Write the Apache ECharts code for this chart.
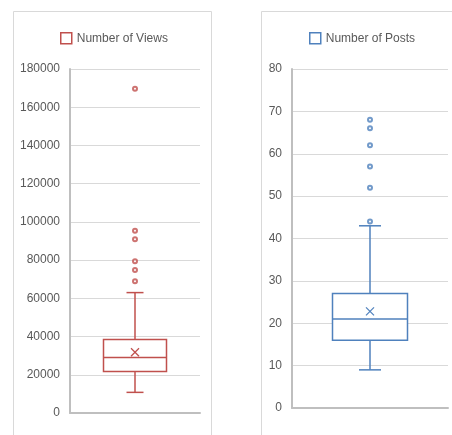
<!DOCTYPE html>
<html>
<head>
<meta charset="utf-8">
<script src="https://cdn.jsdelivr.net/npm/echarts@6/dist/echarts.min.js"></script>
<style>
  html, body { margin: 0; padding: 0; background: #fff; }
  #chart { width: 452px; height: 435px; }
</style>
</head>
<body>
<div id="chart"></div>
<script>
// box stats: [min, q1, median, q3, max]
var viewsStats = [10800, 21700, 29000, 38400, 63000]
var viewsMean = 31800
var viewsOutliers = [68900, 74800, 79400, 90900, 95400, 169700]
var viewsTicks = [0, 180000, 20000]

var postsStats = [9, 16, 21, 27, 43]
var postsMean = 22.8
var postsOutliers = [44, 52, 57, 62, 66, 68]
var postsTicks = [0, 80, 10]

var red = '#C0504D'
var blue = '#4F81BD'
var font = '"Liberation Sans", Arial, sans-serif'

// box, whiskers, caps and mean cross drawn from axis coords
function boxRenderer(boxW, capW, color) {
  return function (params, api) {
    var lo = api.coord([0, api.value(1)])
    var q1 = api.coord([0, api.value(2)])
    var md = api.coord([0, api.value(3)])
    var q3 = api.coord([0, api.value(4)])
    var hi = api.coord([0, api.value(5)])
    var mn = api.coord([0, api.value(6)])
    var x = lo[0]
    var st = { stroke: color, lineWidth: 1.5, fill: null }
    var c = 4
    return {
      type: 'group',
      children: [
        { type: 'rect', shape: { x: x - boxW / 2, y: q3[1], width: boxW, height: q1[1] - q3[1] }, style: { stroke: color, lineWidth: 1.5, fill: '#fff' } },
        { type: 'line', shape: { x1: x - boxW / 2, y1: md[1], x2: x + boxW / 2, y2: md[1] }, style: st },
        { type: 'line', shape: { x1: x, y1: q3[1], x2: x, y2: hi[1] }, style: st },
        { type: 'line', shape: { x1: x, y1: q1[1], x2: x, y2: lo[1] }, style: st },
        { type: 'line', shape: { x1: x - capW / 2, y1: hi[1], x2: x + capW / 2, y2: hi[1] }, style: st },
        { type: 'line', shape: { x1: x - capW / 2, y1: lo[1], x2: x + capW / 2, y2: lo[1] }, style: st },
        { type: 'line', shape: { x1: x - c, y1: mn[1] - c, x2: x + c, y2: mn[1] + c }, style: { stroke: color, lineWidth: 1.2 } },
        { type: 'line', shape: { x1: x - c, y1: mn[1] + c, x2: x + c, y2: mn[1] - c }, style: { stroke: color, lineWidth: 1.2 } }
      ]
    }
  }
}

function yAxis(gridIndex, ticks) {
  return {
    type: 'value',
    gridIndex: gridIndex,
    min: ticks[0],
    max: ticks[1],
    interval: ticks[2],
    axisLine: { show: true, lineStyle: { color: '#BFBFBF', width: 2 } },
    axisTick: { show: false },
    axisLabel: {
      color: '#595959', fontSize: 12, fontFamily: font, margin: 10,
      formatter: function (v) { return String(v) }
    },
    splitLine: { lineStyle: { color: '#D9D9D9', width: 1 } }
  }
}

function xAxis(gridIndex) {
  return {
    type: 'category',
    gridIndex: gridIndex,
    data: ['1'],
    axisLine: { show: true, lineStyle: { color: '#BFBFBF', width: 2 } },
    axisTick: { show: false },
    axisLabel: { show: false },
    splitLine: { show: false }
  }
}

function legend(name, left, color) {
  return {
    data: [name],
    left: left,
    top: 32,
    padding: 0,
    itemWidth: 11,
    itemHeight: 11,
    icon: 'rect',
    selectedMode: false,
    itemStyle: { color: '#fff', borderColor: color, borderWidth: 1.5 },
    textStyle: { color: '#595959', fontSize: 12, fontFamily: font }
  }
}

var chart = echarts.init(document.getElementById('chart'))
chart.setOption({
  animation: false,
  backgroundColor: '#fff',
  graphic: [
    { type: 'rect', shape: { x: 13.5, y: 11.5, width: 198, height: 440 }, style: { fill: null, stroke: '#D9D9D9', lineWidth: 1 } },
    { type: 'rect', shape: { x: 261.5, y: 11.5, width: 210, height: 440 }, style: { fill: null, stroke: '#D9D9D9', lineWidth: 1 } }
  ],
  legend: [
    legend('Number of Views', 60, red),
    legend('Number of Posts', 309, blue)
  ],
  grid: [
    { left: 70, top: 69, width: 130, height: 344 },
    { left: 292, top: 69, width: 156, height: 339 }
  ],
  xAxis: [xAxis(0), xAxis(1)],
  yAxis: [yAxis(0, viewsTicks), yAxis(1, postsTicks)],
  series: [
    {
      name: 'Number of Views',
      type: 'custom',
      xAxisIndex: 0,
      yAxisIndex: 0,
      renderItem: boxRenderer(63, 17, red),
      encode: { x: 0, y: [1, 2, 3, 4, 5, 6] },
      data: [[0].concat(viewsStats, [viewsMean])],
      z: 3
    },
    {
      type: 'scatter',
      xAxisIndex: 0,
      yAxisIndex: 0,
      symbol: 'emptyCircle',
      symbolSize: 4,
      itemStyle: { color: red, borderColor: red, borderWidth: 1 },
      data: viewsOutliers.map(function (v) { return [0, v] }),
      z: 4
    },
    {
      name: 'Number of Posts',
      type: 'custom',
      xAxisIndex: 1,
      yAxisIndex: 1,
      renderItem: boxRenderer(75, 22, blue),
      encode: { x: 0, y: [1, 2, 3, 4, 5, 6] },
      data: [[0].concat(postsStats, [postsMean])],
      z: 3
    },
    {
      type: 'scatter',
      xAxisIndex: 1,
      yAxisIndex: 1,
      symbol: 'emptyCircle',
      symbolSize: 4,
      itemStyle: { color: blue, borderColor: blue, borderWidth: 1 },
      data: postsOutliers.map(function (v) { return [0, v] }),
      z: 4
    }
  ]
})
</script>
</body>
</html>
